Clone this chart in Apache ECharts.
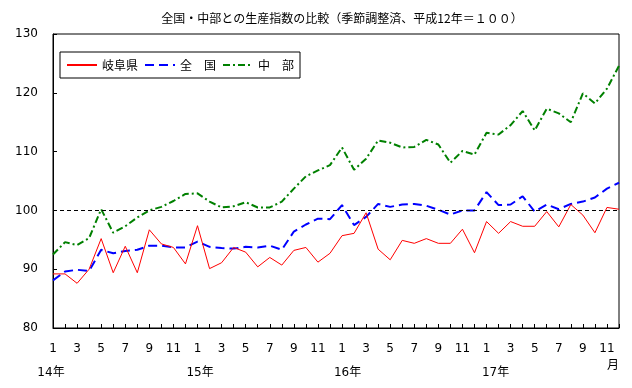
<!DOCTYPE html>
<html>
<head>
<meta charset="utf-8">
<script src="https://cdn.jsdelivr.net/npm/echarts@6/dist/echarts.min.js"></script>
<style>html,body{margin:0;padding:0;background:#fff;}#c{width:632px;height:388px;}</style>
</head>
<body>
<div id="c"></div>
<script>
var years = ['14年', '15年', '16年', '17年'];
var months = [1,2,3,4,5,6,7,8,9,10,11,12];
var seriesNames = ['岐阜県', '全　国', '中　部'];
var gifu = [89.2, 89.2, 87.6, 90.0, 95.2, 89.4, 93.9, 89.4, 96.7, 94.3, 93.7, 90.9,
            97.4, 90.1, 91.1, 93.7, 92.9, 90.4, 92.0, 90.7, 93.2, 93.7, 91.2, 92.7,
            95.7, 96.1, 99.6, 93.4, 91.6, 94.9, 94.4, 95.2, 94.4, 94.4, 96.8, 92.8,
            98.1, 96.1, 98.1, 97.3, 97.3, 99.8, 97.2, 101.0, 99.2, 96.2, 100.5, 100.2];
var zenkoku = [88.1, 89.6, 89.9, 89.7, 93.3, 92.7, 93.1, 93.3, 94.0, 94.0, 93.7, 93.7,
               94.7, 93.8, 93.6, 93.5, 93.8, 93.7, 94.0, 93.3, 96.4, 97.6, 98.6, 98.5,
               100.9, 97.5, 98.9, 101.1, 100.6, 101.0, 101.1, 100.8, 100.1, 99.3, 100.0, 100.0,
               103.1, 100.9, 101.0, 102.4, 99.8, 101.0, 100.2, 101.1, 101.5, 102.2, 103.7, 104.7];
var chubu = [92.5, 94.6, 94.1, 95.3, 100.2, 96.2, 97.3, 98.8, 100.0, 100.6, 101.6, 102.8,
             102.9, 101.5, 100.5, 100.7, 101.4, 100.5, 100.5, 101.5, 103.7, 105.8, 106.8, 107.7,
             110.7, 106.9, 108.8, 111.9, 111.5, 110.7, 110.8, 112.0, 111.2, 108.1, 110.1, 109.5,
             113.2, 112.9, 114.5, 116.9, 113.6, 117.3, 116.5, 115.0, 119.9, 118.2, 120.7, 124.6];
var baseLine = 100;
var yTicks = [80, 90, 100, 110, 120, 130];

var categories = [];
years.forEach(function (y) { months.forEach(function (m) { categories.push(y + m); }); });

var chart = echarts.init(document.getElementById('c'));
var lab = 'DejaVu Sans, Noto Sans CJK JP';
chart.setOption({
  animation: false,
  backgroundColor: '#fff',
  title: {
    text: '全国・中部との生産指数の比較（季節調整済、平成12年＝１００）',
    left: 337, top: 7, textAlign: 'center',
    textStyle: { fontSize: 12, fontWeight: 'normal', color: '#000', fontFamily: 'Noto Sans CJK JP' }
  },
  legend: {
    left: 60, top: 52,
    orient: 'horizontal',
    itemWidth: 30, itemHeight: 12, itemGap: 6,
    padding: [7, 6, 7, 6],
    borderColor: '#000', borderWidth: 1,
    backgroundColor: '#fff',
    itemStyle: { opacity: 0 },
    textStyle: { fontSize: 12, color: '#000', fontFamily: 'Noto Sans CJK JP' },
    data: seriesNames
  },
  grid: { left: 53, right: 13, top: 34, bottom: 60, show: true, borderColor: '#000', borderWidth: 1,
          containLabel: false, outerBoundsMode: 'none' },
  xAxis: {
    type: 'category', data: categories, boundaryGap: false,
    axisLine: { lineStyle: { color: '#000', width: 1 } },
    axisTick: { inside: true, length: 4, interval: 0, lineStyle: { color: '#000' } },
    axisLabel: {
      interval: 1, margin: 14, color: '#000', fontSize: 12, fontFamily: lab, lineHeight: 14,
      formatter: function (v, i) {
        var m = months[i % 12];
        if (m === 1) {
          var yi = Math.floor(i / 12);
          return m + '\n{y' + yi + '|' + years[yi] + '}';
        }
        if (i === categories.length - 2) return m + '\n{mo|月}';
        return '' + m;
      },
      rich: {
        y0: { fontSize: 12, lineHeight: 34, fontFamily: lab, color: '#000', padding: [0, 4, 0, 0] },
        y1: { fontSize: 12, lineHeight: 34, fontFamily: lab, color: '#000', padding: [0, 0, 0, 5] },
        y2: { fontSize: 12, lineHeight: 34, fontFamily: lab, color: '#000', padding: [0, 0, 0, 11] },
        y3: { fontSize: 12, lineHeight: 34, fontFamily: lab, color: '#000', padding: [0, 0, 0, 18] },
        mo: { fontSize: 12, lineHeight: 20, fontFamily: lab, color: '#000', padding: [0, 0, 0, 12] }
      }
    },
    splitLine: { show: false }
  },
  yAxis: {
    type: 'value', min: yTicks[0], max: yTicks[yTicks.length - 1], interval: 10,
    axisLine: { show: true, lineStyle: { color: '#000', width: 1 } },
    axisTick: { show: true, inside: true, length: 4, lineStyle: { color: '#000' } },
    axisLabel: { color: '#000', fontSize: 12, fontFamily: lab, margin: 15 },
    splitLine: { show: false }
  },
  series: [
    {
      name: seriesNames[0], type: 'line', data: gifu, symbol: 'none', showSymbol: false,
      lineStyle: { color: '#ff0000', width: 1 }, itemStyle: { color: '#ff0000' }, z: 4,
      markLine: {
        silent: true, symbol: 'none', label: { show: false },
        lineStyle: { color: '#000', type: [4, 3], width: 1 },
        data: [{ yAxis: baseLine }]
      }
    },
    {
      name: seriesNames[1], type: 'line', data: zenkoku, symbol: 'none', showSymbol: false,
      lineStyle: { color: '#0000ff', width: 2, type: [9, 5] }, itemStyle: { color: '#0000ff' }, z: 3
    },
    {
      name: seriesNames[2], type: 'line', data: chubu, symbol: 'none', showSymbol: false,
      lineStyle: { color: '#008000', width: 2, type: [7, 3, 2, 3] }, itemStyle: { color: '#008000' }, z: 2
    }
  ]
});
</script>
</body>
</html>
